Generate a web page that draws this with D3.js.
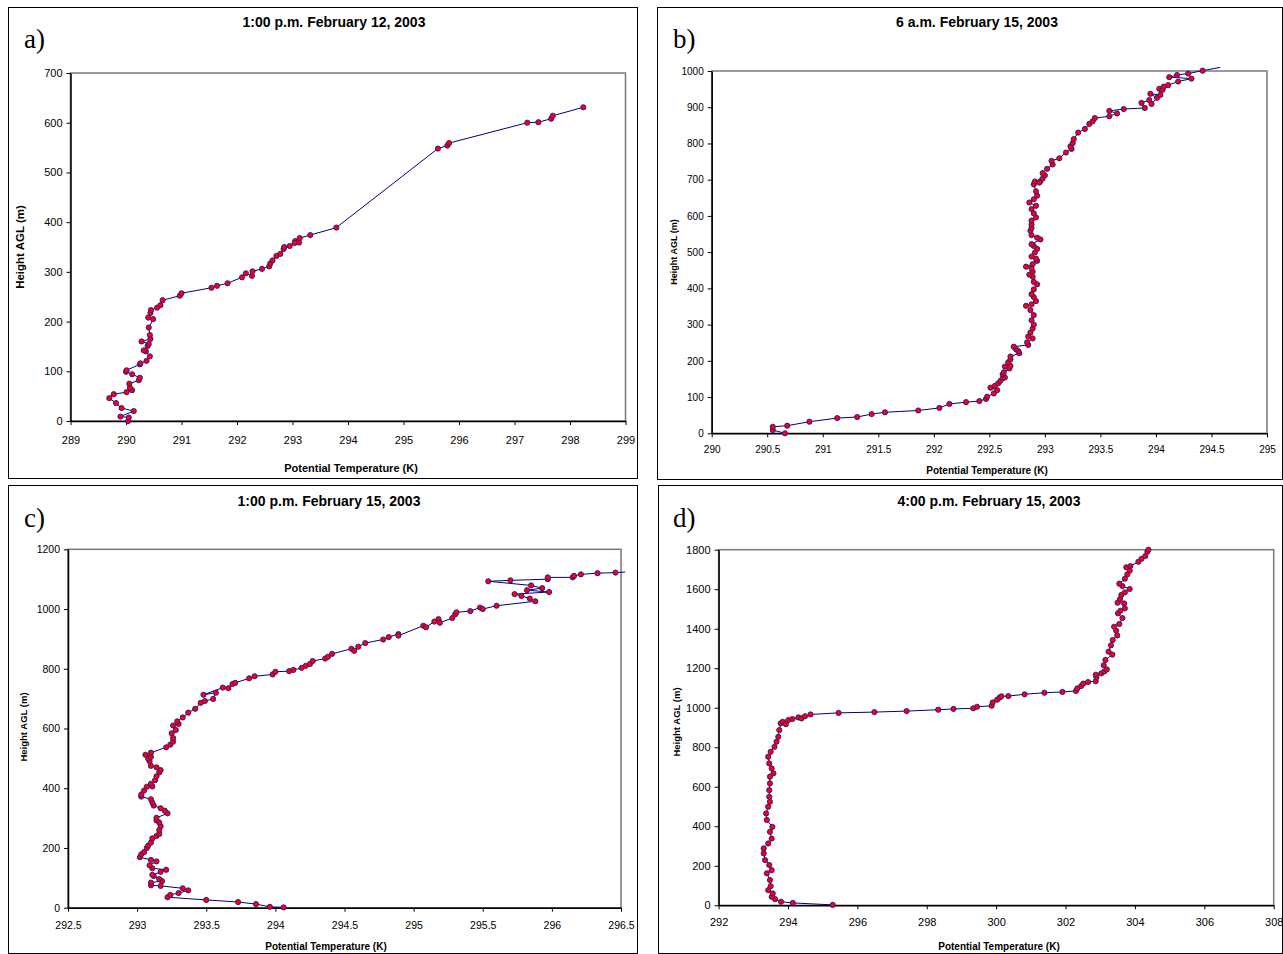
<!DOCTYPE html>
<html><head><meta charset="utf-8">
<script src="https://cdn.jsdelivr.net/npm/d3@7"></script>
<style>body{margin:0;background:#fff}svg{display:block}</style>
</head><body><svg id="chart" width="1283" height="954"></svg>
<script>
// ---------- DATA ----------
const panelTitles = ["1:00 p.m. February 12, 2003", "6 a.m. February 15, 2003", "1:00 p.m. February 15, 2003", "4:00 p.m. February 15, 2003"];
const panelLetters = ["a)", "b)", "c)", "d)"];
const xAxisTitle = "Potential Temperature (K)";
const yAxisTitle = "Height AGL (m)";

// Panel a
const aTemp = [290.04,290.05,289.90,290.14,289.92,289.82,289.70,289.78,290.01,290.11,290.07,290.06,290.23,290.25,290.11,290.00,290.01,290.25,290.26,290.37,290.43,290.36,290.32,290.39,290.41,290.28,290.44,290.43,290.41,290.49,290.40,290.44,290.45,290.56,290.62,290.66,290.97,291.00,291.54,291.64,291.83,292.09,292.16,292.27,292.28,292.45,292.58,292.60,292.64,292.71,292.78,292.84,292.85,292.95,293.05,293.04,293.12,293.13,293.32,293.79,295.62,295.79,295.82,297.23,297.43,297.66,297.69,298.24];
const aHeight = [0,7,9,20,26,36,46,54,58,62,67,75,82,87,94,99,102,114,116,121,130,140,142,151,155,160,165,173,188,205,208,217,223,228,233,243,252,257,268,272,277,289,297,292,301,306,311,317,323,332,336,346,350,352,362,358,359,368,374,389,548,554,559,600,601,608,614,631];
const aXTicks = [289,290,291,292,293,294,295,296,297,298,299];
const aYTicks = [0,100,200,300,400,500,600,700];

// Panel b
const bTemp = [290.66,290.55,290.55,290.68,290.88,291.13,291.31,291.44,291.56,291.86,292.05,292.14,292.29,292.41,292.47,292.48,292.54,292.57,292.51,292.55,292.58,292.60,292.62,292.64,292.62,292.63,292.68,292.69,292.64,292.67,292.69,292.69,292.77,292.76,292.74,292.72,292.85,292.84,292.89,292.85,292.87,292.89,292.90,292.88,292.90,292.87,292.83,292.88,292.92,292.90,292.88,292.90,292.93,292.90,292.89,292.86,292.89,292.88,292.83,292.89,292.93,292.92,292.88,292.91,292.93,292.90,292.88,292.96,292.93,292.88,292.87,292.88,292.88,292.88,292.92,292.90,292.88,292.92,292.86,292.90,292.93,292.92,292.90,292.91,292.96,292.95,292.98,293.00,292.98,293.02,293.07,293.06,293.13,293.19,293.24,293.23,293.25,293.26,293.30,293.36,293.40,293.43,293.45,293.58,293.65,293.58,293.71,293.90,293.87,293.94,293.96,294.01,293.95,294.04,294.03,294.06,294.07,294.11,294.20,294.32,294.12,294.19,294.29,294.42,294.58];
const bHeight = [0,9,18,21,32,42,45,53,58,63,70,81,86,89,95,101,110,119,126,131,138,145,152,154,163,168,179,186,184,196,204,212,221,227,232,239,244,251,262,267,278,289,300,312,326,340,352,356,365,376,384,397,411,418,432,438,446,455,460,467,476,482,488,499,509,517,522,535,540,547,559,567,577,587,596,607,619,628,637,646,656,668,687,695,696,692,703,712,718,730,742,752,759,775,785,792,801,812,830,840,854,861,870,875,883,890,895,898,912,920,909,926,937,934,951,948,957,961,971,979,983,989,993,1001,1010];
const bXTicks = [290,290.5,291,291.5,292,292.5,293,293.5,294,294.5,295];
const bYTicks = [0,100,200,300,400,500,600,700,800,900,1000];

// Panel c
const cTemp = [294.06,293.96,293.86,293.73,293.50,293.22,293.24,293.30,293.37,293.33,293.17,293.10,293.10,293.18,293.16,293.12,293.11,293.17,293.21,293.11,293.09,293.14,293.10,293.02,293.03,293.05,293.07,293.08,293.10,293.11,293.14,293.16,293.16,293.17,293.16,293.14,293.14,293.22,293.20,293.17,293.12,293.11,293.10,293.03,293.03,293.05,293.07,293.11,293.10,293.13,293.14,293.16,293.17,293.14,293.10,293.09,293.08,293.10,293.06,293.10,293.21,293.24,293.26,293.26,293.25,293.28,293.26,293.30,293.29,293.33,293.37,293.42,293.46,293.49,293.55,293.57,293.48,293.62,293.66,293.69,293.71,293.81,293.85,293.98,294.00,294.10,294.13,294.19,294.22,294.25,294.27,294.36,294.38,294.41,294.55,294.57,294.60,294.65,294.78,294.82,294.89,294.89,295.07,295.09,295.15,295.18,295.19,295.28,295.30,295.31,295.41,295.48,295.50,295.60,295.88,295.84,295.78,295.73,295.98,295.82,295.93,295.85,295.54,295.70,295.97,295.97,296.15,296.16,296.21,296.33,296.46,296.53];
const cHeight = [1,3,12,19,26,35,43,49,58,65,73,75,84,89,96,106,110,120,127,132,142,155,160,169,179,186,200,208,218,232,240,247,260,273,285,292,301,316,325,333,342,352,363,372,379,392,405,406,415,427,440,453,461,470,475,490,499,505,512,519,537,546,556,568,584,595,610,615,624,637,653,666,686,692,699,720,713,737,735,749,753,768,775,781,790,792,796,803,810,816,826,834,840,850,867,860,874,886,898,906,916,911,944,939,958,966,954,970,982,989,993,1005,1000,1011,1026,1035,1044,1050,1057,1063,1070,1079,1093,1096,1100,1106,1106,1111,1116,1120,1122,1124];
const cXTicks = [292.5,293,293.5,294,294.5,295,295.5,296,296.5];
const cYTicks = [0,200,400,600,800,1000,1200];

// Panel d
const dTemp = [295.29,294.14,293.80,293.63,293.53,293.56,293.43,293.50,293.48,293.39,293.53,293.46,293.34,293.30,293.30,293.43,293.53,293.48,293.55,293.39,293.37,293.43,293.48,293.46,293.46,293.48,293.48,293.58,293.53,293.46,293.43,293.50,293.61,293.67,293.72,293.75,293.79,293.85,293.94,294.01,294.13,294.30,294.39,294.49,294.65,295.46,296.49,297.42,298.33,298.77,299.34,299.45,299.87,299.90,300.03,300.10,300.15,300.35,300.82,301.39,301.91,302.30,302.34,302.45,302.51,302.65,302.87,302.89,302.87,303.03,303.12,303.19,303.10,303.15,303.35,303.24,303.31,303.36,303.49,303.46,303.40,303.55,303.64,303.51,303.58,303.71,303.69,303.50,303.57,303.61,303.71,303.85,303.64,303.55,303.71,303.78,303.85,303.75,303.87,304.10,304.19,304.30,304.36,304.39];
const dHeight = [2,12,18,31,43,60,77,97,128,162,178,204,229,263,288,313,338,372,397,432,465,499,524,549,583,617,651,668,693,718,752,777,802,828,853,887,921,929,917,938,943,951,946,957,966,974,978,983,990,994,997,1005,1010,1027,1041,1051,1058,1059,1068,1076,1080,1085,1098,1110,1122,1130,1134,1154,1167,1174,1184,1194,1215,1242,1269,1284,1316,1343,1366,1390,1410,1424,1454,1478,1491,1503,1528,1532,1550,1571,1584,1601,1616,1628,1653,1675,1694,1711,1717,1739,1754,1768,1790,1800];
const dXTicks = [292,294,296,298,300,302,304,306,308];
const dYTicks = [0,200,400,600,800,1000,1200,1400,1600,1800];

// ---------- LAYOUT ----------
const panels = [
  {temp:aTemp, height:aHeight, xt:aXTicks, yt:aYTicks, frame:[8,7,637,478], px:[70.5,625.5], py:[421,73],
   title:[334,22], letter:[24,48], xl:[351,468], yl:[20,247], xtOff:19, tickFs:11, xlFs:11, ylFs:11.5},
  {temp:bTemp, height:bHeight, xt:bXTicks, yt:bYTicks, frame:[657,7,1282,479], px:[711.7,1267], py:[433.3,71],
   title:[977,22], letter:[673,48], xl:[987,470], yl:[674,252], xtOff:16, tickFs:10, xlFs:10, ylFs:9},
  {temp:cTemp, height:cHeight, xt:cXTicks, yt:cYTicks, frame:[8,485,637,953], px:[68,621], py:[907.7,549.3],
   title:[329,501], letter:[24,527], xl:[326,946], yl:[24,727], xtOff:18, tickFs:10.5, xlFs:10, ylFs:9.5},
  {temp:dTemp, height:dHeight, xt:dXTicks, yt:dYTicks, frame:[658,485,1282,953], px:[718.6,1273.7], py:[905.3,549.7],
   title:[989,501], letter:[673,527], xl:[999,946], yl:[677,722], xtOff:17, tickFs:11, xlFs:10, ylFs:9.5}
];

const svg = d3.select("#chart");
const SANS = "'Liberation Sans', Arial, sans-serif";

panels.forEach((p, i) => {
  const g = svg.append("g");
  const [fx0, fy0, fx1, fy1] = p.frame;
  g.append("rect").attr("x", fx0 + 0.5).attr("y", fy0 + 0.5).attr("width", fx1 - fx0).attr("height", fy1 - fy0)
    .attr("fill", "#fff").attr("stroke", "#000").attr("stroke-width", 1);

  const x = d3.scaleLinear().domain([p.xt[0], p.xt[p.xt.length - 1]]).range(p.px);
  const y = d3.scaleLinear().domain([p.yt[0], p.yt[p.yt.length - 1]]).range(p.py);

  g.append("rect").attr("x", p.px[0]).attr("y", p.py[1]).attr("width", p.px[1] - p.px[0]).attr("height", p.py[0] - p.py[1])
    .attr("fill", "none").attr("stroke", "#7a7a7a").attr("stroke-width", 1.5);

  const xAxis = d3.axisBottom(x).tickValues(p.xt).tickSize(4).tickSizeOuter(0).tickFormat(d => String(d));
  const gx = g.append("g").attr("transform", `translate(0,${p.py[0]})`).call(xAxis);
  gx.select(".domain").attr("stroke", "#000").attr("stroke-width", 1.5);
  gx.selectAll(".tick line").attr("stroke", "#000").attr("stroke-width", 1);
  gx.selectAll(".tick text").attr("y", p.xtOff).attr("dy", "0.35em")
    .attr("font-family", SANS).attr("font-size", p.tickFs).attr("fill", "#000");

  const yAxis = d3.axisLeft(y).tickValues(p.yt).tickSize(4).tickSizeOuter(0).tickFormat(d => String(d));
  const gy = g.append("g").attr("transform", `translate(${p.px[0]},0)`).call(yAxis);
  gy.select(".domain").attr("stroke", "#000").attr("stroke-width", 1.5);
  gy.selectAll(".tick line").attr("stroke", "#000").attr("stroke-width", 1);
  gy.selectAll(".tick text").attr("x", -8).attr("font-family", SANS).attr("font-size", p.tickFs).attr("fill", "#000");

  const pts = p.temp.map((t, k) => ({t, h: p.height[k]}));
  const line = d3.line().x(d => x(d.t)).y(d => y(d.h));
  g.append("path").datum(pts).attr("d", line).attr("fill", "none").attr("stroke", "#000080").attr("stroke-width", 1);
  const xd = x.domain(), yd = y.domain();
  g.selectAll("circle.m").data(pts.filter(d => d.t <= xd[1] && d.h <= yd[1] * 1.002)).join("circle")
    .attr("class", "m").attr("cx", d => x(d.t)).attr("cy", d => y(d.h)).attr("r", 2.6)
    .attr("fill", "#ff0000").attr("stroke", "#1a1a9a").attr("stroke-width", 0.9);

  g.append("text").attr("x", p.title[0]).attr("y", p.title[1]).attr("dy", "0.35em").attr("text-anchor", "middle")
    .attr("font-family", SANS).attr("font-weight", "bold").attr("font-size", 14).text(panelTitles[i]);
  g.append("text").attr("x", p.letter[0]).attr("y", p.letter[1]).attr("font-family", "'Liberation Serif', 'Times New Roman', serif")
    .attr("font-size", 27).text(panelLetters[i]);
  g.append("text").attr("x", p.xl[0]).attr("y", p.xl[1]).attr("dy", "0.35em").attr("text-anchor", "middle")
    .attr("font-family", SANS).attr("font-weight", "bold").attr("font-size", p.xlFs).text(xAxisTitle);
  g.append("text").attr("transform", `translate(${p.yl[0]},${p.yl[1]}) rotate(-90)`).attr("dy", "0.35em").attr("text-anchor", "middle")
    .attr("font-family", SANS).attr("font-weight", "bold").attr("font-size", p.ylFs).text(yAxisTitle);
});
</script></body></html>
